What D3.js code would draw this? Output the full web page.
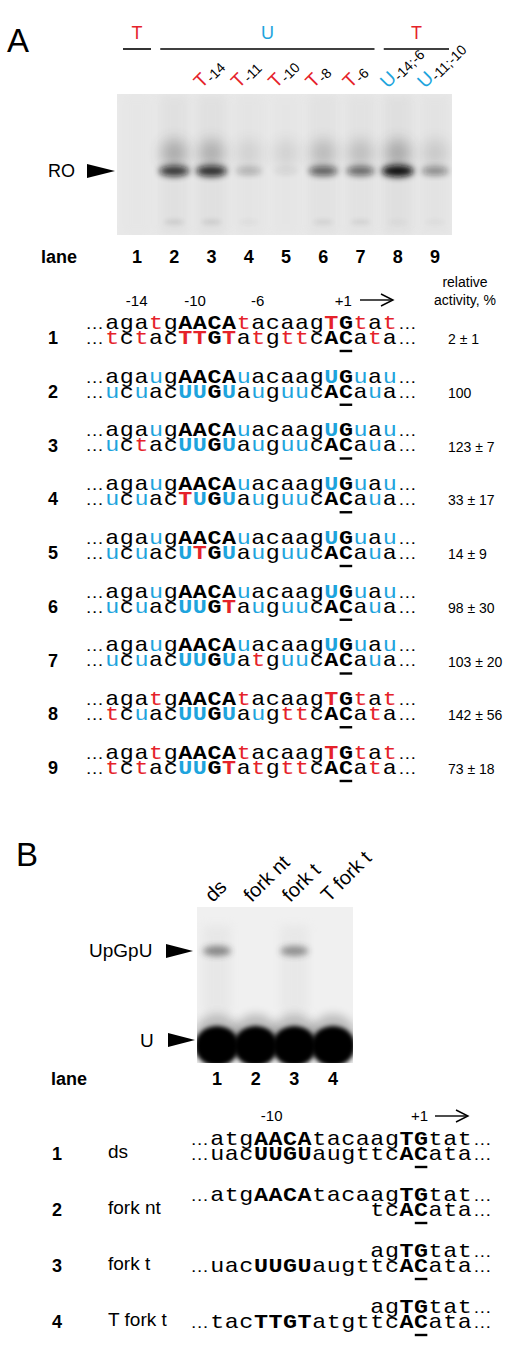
<!DOCTYPE html>
<html>
<head>
<meta charset="utf-8">
<script src="https://cdn.jsdelivr.net/npm/d3@7"></script>
<style>
  body { margin: 0; background: #fff; }
  svg { display: block; }
</style>
</head>
<body>
<div id="fig"></div>
<script>
// ---- panel A data
const lanesA = ["1", "2", "3", "4", "5", "6", "7", "8", "9"];
const groupLabelsA = ["T", "U", "T"];
const groupFirstA = ["1", "2", "8"];
const groupLastA = ["1", "7", "9"];
const modBaseA = ["", "", "T", "T", "T", "T", "T", "U", "U"];
const modPosA = ["", "", "-14", "-11", "-10", "-8", "-6", "-14;-6", "-11;-10"];
// band darkness (0 = none, 1 = darkest)
const roBandA = [0.0, 0.8, 0.85, 0.25, 0.07, 0.62, 0.58, 1.0, 0.42];
const smearA = [0.0, 0.3, 0.28, 0.1, 0.1, 0.22, 0.2, 0.3, 0.14];
const lowBandA = [0.0, 0.1, 0.1, 0.03, 0.0, 0.08, 0.08, 0.03, 0.03];
const posLabelsA = ["-14", "-10", "-6", "+1"];
const posIndexA = [2, 6, 10, 16];
const topA = [
  "agatgAACAtacaagTGtat",
  "agaugAACAuacaagUGuau",
  "agaugAACAuacaagUGuau",
  "agaugAACAuacaagUGuau",
  "agaugAACAuacaagUGuau",
  "agaugAACAuacaagUGuau",
  "agaugAACAuacaagUGuau",
  "agatgAACAtacaagTGtat",
  "agatgAACAtacaagTGtat"
];
const botA = [
  "tctacTTGTatgttcACata",
  "ucuacUUGUauguucACaua",
  "uctacUUGUauguucACaua",
  "ucuacTUGUauguucACaua",
  "ucuacUTGUauguucACaua",
  "ucuacUUGTauguucACaua",
  "ucuacUUGUatguucACaua",
  "tcuacUUGUaugttcACata",
  "tctacUUGTatgttcACata"
];
const activityA = ["2 ± 1", "100", "123 ± 7", "33 ± 17", "14 ± 9", "98 ± 30", "103 ± 20", "142 ± 56", "73 ± 18"];
const boldIndexA = [5, 6, 7, 8, 15, 16];
const underIndexA = 16;

// ---- panel B data
const lanesB = ["1", "2", "3", "4"];
const namesB = ["ds", "fork nt", "fork t", "T fork t"];
const upgpuB = [0.55, 0.0, 0.5, 0.0];
const uBandB = [1, 1, 1, 1];
const posLabelsB = ["-10", "+1"];
const posIndexB = [4, 14];
const topB = [
  "atgAACAtacaagTGtat",
  "atgAACAtacaagTGtat",
  "           agTGtat",
  "           agTGtat"
];
const botB = [
  "uacUUGUaugttcACata",
  "           tcACata",
  "uacUUGUaugttcACata",
  "tacTTGTatgttcACata"
];
const boldIndexB = [3, 4, 5, 6, 13, 14];
const underIndexB = 14;

const RED = "#e5222a", BLUE = "#1ea4dd";
const SANS = "'Liberation Sans', Arial, sans-serif";
const MONO = "'Liberation Mono', 'Courier New', monospace";
const SX = 1.17;      // widen the mono glyphs toward Courier proportions
const lineGap = 15;   // distance between the two strands of a duplex

const W = 520, H = 1352;
const svg = d3.select("#fig").append("svg")
  .attr("width", W).attr("height", H)
  .attr("viewBox", `0 0 ${W} ${H}`);
svg.append("rect").attr("width", W).attr("height", H).attr("fill", "#fff");

const defs = svg.append("defs");
[2, 3, 5, 7].forEach(s => {
  defs.append("filter").attr("id", "blur" + s).attr("x", "-60%").attr("y", "-60%")
    .attr("width", "220%").attr("height", "220%")
    .append("feGaussianBlur").attr("stdDeviation", s);
});

function arrowHead(g, tipX, y, len, half) {
  g.append("path")
    .attr("d", `M${tipX - len},${y - half} L${tipX},${y} L${tipX - len},${y + half} Z`)
    .attr("fill", "#000");
}

function baseColor(ch, colored) {
  if (!colored) return "#000";
  if (ch === "t" || ch === "T") return RED;
  if (ch === "u" || ch === "U") return BLUE;
  return "#000";
}

// one duplex = one text element; each base is a tspan placed by the position scale
function duplex(g, strands, xs, y0, boldIdx, underIdx, colored) {
  const t = g.append("text")
    .attr("transform", `scale(${SX},1)`)
    .attr("font-family", MONO).attr("font-size", 20);
  strands.forEach((seq, k) => {
    const y = y0 + k * lineGap;
    const chars = seq.split("").map((c, i) => ({ c, i })).filter(d => d.c !== " ");
    if (chars[0].i === 0) {
      t.append("tspan").attr("x", (xs(0) - 1) / SX).attr("y", y)
        .attr("text-anchor", "end").attr("font-family", SANS).attr("font-size", 16)
        .text("\u2026");
    }
    chars.forEach(d => {
      t.append("tspan")
        .attr("x", xs(d.i + 0.5) / SX).attr("y", y)
        .attr("text-anchor", "middle")
        .attr("font-weight", boldIdx.includes(d.i) ? "bold" : "normal")
        .attr("fill", baseColor(d.c, colored))
        .text(d.c);
    });
    t.append("tspan").attr("x", (xs(seq.length) + 1) / SX).attr("y", y)
      .attr("text-anchor", "start").attr("font-family", SANS).attr("font-size", 16)
      .text("\u2026");
  });
  const yb = y0 + lineGap;
  g.append("line")
    .attr("x1", xs(underIdx) + 1).attr("x2", xs(underIdx + 1) - 1)
    .attr("y1", yb + 7).attr("y2", yb + 7)
    .attr("stroke", "#000").attr("stroke-width", 2.4);
}

// ================= PANEL A =================
const A = svg.append("g");
A.append("text").attr("x", 7).attr("y", 52)
  .attr("font-family", SANS).attr("font-size", 33).text("A");

const xLaneA = d3.scalePoint().domain(lanesA).range([137, 435]);

// group headers
groupLabelsA.forEach((lab, k) => {
  const x1 = xLaneA(groupFirstA[k]) - 14, x2 = xLaneA(groupLastA[k]) + 14;
  A.append("line").attr("x1", x1).attr("x2", x2).attr("y1", 49).attr("y2", 49)
    .attr("stroke", "#000").attr("stroke-width", 1.6);
  A.append("text").attr("x", (x1 + x2) / 2).attr("y", 39)
    .attr("text-anchor", "middle").attr("font-family", SANS).attr("font-size", 18)
    .attr("fill", lab === "T" ? RED : BLUE).text(lab);
});

// rotated lane modifications (base letter with subscript position)
lanesA.forEach((l, i) => {
  if (!modBaseA[i]) return;
  const t = A.append("text")
    .attr("transform", `translate(${xLaneA(l) - 10},89) rotate(-45)`)
    .attr("font-family", SANS).attr("font-size", 19);
  t.append("tspan").attr("fill", modBaseA[i] === "T" ? RED : BLUE).text(modBaseA[i]);
  t.append("tspan").attr("font-size", 14).attr("dy", 3).attr("fill", "#000").text(modPosA[i]);
});

// gel A
const gelA = { x: 117, y: 94, w: 335, h: 141 };
defs.append("clipPath").attr("id", "clipA").append("rect")
  .attr("x", gelA.x).attr("y", gelA.y).attr("width", gelA.w).attr("height", gelA.h);
A.append("rect").attr("x", gelA.x).attr("y", gelA.y).attr("width", gelA.w).attr("height", gelA.h)
  .attr("fill", "#e9e9e9");
const gA = A.append("g").attr("clip-path", "url(#clipA)");
gA.selectAll(".lanebg").data(lanesA).enter().append("rect")
  .attr("x", d => xLaneA(d) - 15).attr("y", gelA.y).attr("width", 30).attr("height", gelA.h)
  .attr("fill", "#d8d8d8").attr("opacity", (d, i) => 0.15 + roBandA[i] * 0.4)
  .attr("filter", "url(#blur5)");
gA.selectAll(".smear").data(lanesA).enter().append("ellipse")
  .attr("cx", d => xLaneA(d)).attr("cy", 153).attr("rx", 13).attr("ry", 14)
  .attr("fill", "#333").attr("opacity", (d, i) => smearA[i])
  .attr("filter", "url(#blur7)");
gA.selectAll(".band").data(lanesA).enter().append("ellipse")
  .attr("cx", d => xLaneA(d)).attr("cy", 171)
  .attr("rx", (d, i) => 12 + 4 * roBandA[i]).attr("ry", (d, i) => 3 + 3 * roBandA[i])
  .attr("fill", "#0a0a0a").attr("opacity", (d, i) => roBandA[i])
  .attr("filter", "url(#blur3)");
gA.selectAll(".low").data(lanesA).enter().append("ellipse")
  .attr("cx", d => xLaneA(d)).attr("cy", 222).attr("rx", 10).attr("ry", 3)
  .attr("fill", "#333").attr("opacity", (d, i) => lowBandA[i])
  .attr("filter", "url(#blur2)");

// RO marker
A.append("text").attr("x", 48).attr("y", 177)
  .attr("font-family", SANS).attr("font-size", 18).text("RO");
arrowHead(A, 115, 171, 28, 7);

// lane numbers
A.append("text").attr("x", 41).attr("y", 263)
  .attr("font-family", SANS).attr("font-size", 18).attr("font-weight", "bold").text("lane");
A.selectAll(".lanenum").data(lanesA).enter().append("text")
  .attr("x", d => xLaneA(d)).attr("y", 263).attr("text-anchor", "middle")
  .attr("font-family", SANS).attr("font-size", 18).attr("font-weight", "bold")
  .text(d => d);

// sequences A
const xSeqA = d3.scaleLinear().domain([0, 20]).range([105, 397]);
const yRowA = d3.scaleLinear().domain([0, 8]).range([329, 759]);

posLabelsA.forEach((lab, k) => {
  A.append("text").attr("x", xSeqA(posIndexA[k] + 0.5) + 6).attr("y", 306)
    .attr("text-anchor", "end").attr("font-family", SANS).attr("font-size", 15).text(lab);
});
A.append("line").attr("x1", 360).attr("x2", 392).attr("y1", 300).attr("y2", 300)
  .attr("stroke", "#000").attr("stroke-width", 1.4);
A.append("path").attr("d", "M381,294 L393,300 L381,306").attr("fill", "none")
  .attr("stroke", "#000").attr("stroke-width", 1.4);

A.append("text").attr("x", 465).attr("y", 287).attr("text-anchor", "middle")
  .attr("font-family", SANS).attr("font-size", 14).text("relative");
A.append("text").attr("x", 465).attr("y", 305).attr("text-anchor", "middle")
  .attr("font-family", SANS).attr("font-size", 14).text("activity,  %");

lanesA.forEach((l, i) => {
  const y = yRowA(i);
  const row = A.append("g");
  duplex(row, [topA[i], botA[i]], xSeqA, y, boldIndexA, underIndexA, true);
  row.append("text").attr("x", 53).attr("y", y + lineGap).attr("text-anchor", "middle")
    .attr("font-family", SANS).attr("font-size", 18).attr("font-weight", "bold").text(l);
  row.append("text").attr("x", 448).attr("y", y + lineGap).attr("font-family", SANS)
    .attr("font-size", 14).text(activityA[i]);
});

// ================= PANEL B =================
const B = svg.append("g");
B.append("text").attr("x", 16).attr("y", 866)
  .attr("font-family", SANS).attr("font-size", 33).text("B");

const xLaneB = d3.scalePoint().domain(lanesB).range([217, 333]);

lanesB.forEach((l, i) => {
  B.append("text")
    .attr("transform", `translate(${xLaneB(l) - 4},903) rotate(-45)`)
    .attr("font-family", SANS).attr("font-size", 20).text(namesB[i]);
});

const gelB = { x: 197, y: 907, w: 156, h: 156 };
defs.append("clipPath").attr("id", "clipB").append("rect")
  .attr("x", gelB.x).attr("y", gelB.y).attr("width", gelB.w).attr("height", gelB.h);
B.append("rect").attr("x", gelB.x).attr("y", gelB.y).attr("width", gelB.w).attr("height", gelB.h)
  .attr("fill", "#f0f0f0");
const gB = B.append("g").attr("clip-path", "url(#clipB)");
gB.selectAll(".smearB").data(lanesB).enter().append("rect")
  .attr("x", d => xLaneB(d) - 14).attr("y", 925).attr("width", 28).attr("height", 90)
  .attr("fill", "#d2d2d2").attr("opacity", (d, i) => upgpuB[i] * 0.5)
  .attr("filter", "url(#blur5)");
gB.selectAll(".upgpu").data(lanesB).enter().append("ellipse")
  .attr("cx", d => xLaneB(d)).attr("cy", 951).attr("rx", 14).attr("ry", 5)
  .attr("fill", "#333").attr("opacity", (d, i) => upgpuB[i])
  .attr("filter", "url(#blur3)");
gB.selectAll(".uhalo").data(lanesB).enter().append("ellipse")
  .attr("cx", d => xLaneB(d)).attr("cy", 1040).attr("rx", 24).attr("ry", 26)
  .attr("fill", "#000").attr("opacity", (d, i) => 0.22 * uBandB[i])
  .attr("filter", "url(#blur5)");
gB.selectAll(".uband").data(lanesB).enter().append("ellipse")
  .attr("cx", d => xLaneB(d)).attr("cy", 1046).attr("rx", 22).attr("ry", 20)
  .attr("fill", "#000").attr("opacity", (d, i) => uBandB[i])
  .attr("filter", "url(#blur2)");

B.append("text").attr("x", 89).attr("y", 957)
  .attr("font-family", SANS).attr("font-size", 19).text("UpGpU");
arrowHead(B, 193, 951, 27, 7);
B.append("text").attr("x", 140).attr("y", 1047)
  .attr("font-family", SANS).attr("font-size", 19).text("U");
arrowHead(B, 195, 1040, 27, 7);

B.append("text").attr("x", 51).attr("y", 1085)
  .attr("font-family", SANS).attr("font-size", 18).attr("font-weight", "bold").text("lane");
B.selectAll(".lanenumB").data(lanesB).enter().append("text")
  .attr("x", d => xLaneB(d)).attr("y", 1085).attr("text-anchor", "middle")
  .attr("font-family", SANS).attr("font-size", 18).attr("font-weight", "bold")
  .text(d => d);

const xSeqB = d3.scaleLinear().domain([0, 18]).range([210, 472]);
const yRowB = d3.scaleLinear().domain([0, 3]).range([1145, 1313]);

posLabelsB.forEach((lab, k) => {
  B.append("text").attr("x", xSeqB(posIndexB[k] + 0.5) + 7).attr("y", 1121)
    .attr("text-anchor", "end").attr("font-family", SANS).attr("font-size", 15).text(lab);
});
B.append("line").attr("x1", 435).attr("x2", 467).attr("y1", 1116).attr("y2", 1116)
  .attr("stroke", "#000").attr("stroke-width", 1.4);
B.append("path").attr("d", "M456,1110 L468,1116 L456,1122").attr("fill", "none")
  .attr("stroke", "#000").attr("stroke-width", 1.4);

lanesB.forEach((l, i) => {
  const y = yRowB(i);
  const row = B.append("g");
  duplex(row, [topB[i], botB[i]], xSeqB, y, boldIndexB, underIndexB, false);
  row.append("text").attr("x", 57).attr("y", y + lineGap).attr("text-anchor", "middle")
    .attr("font-family", SANS).attr("font-size", 18).attr("font-weight", "bold").text(l);
  row.append("text").attr("x", 108).attr("y", y + lineGap - 2)
    .attr("font-family", SANS).attr("font-size", 19).text(namesB[i]);
});
</script>
</body>
</html>
